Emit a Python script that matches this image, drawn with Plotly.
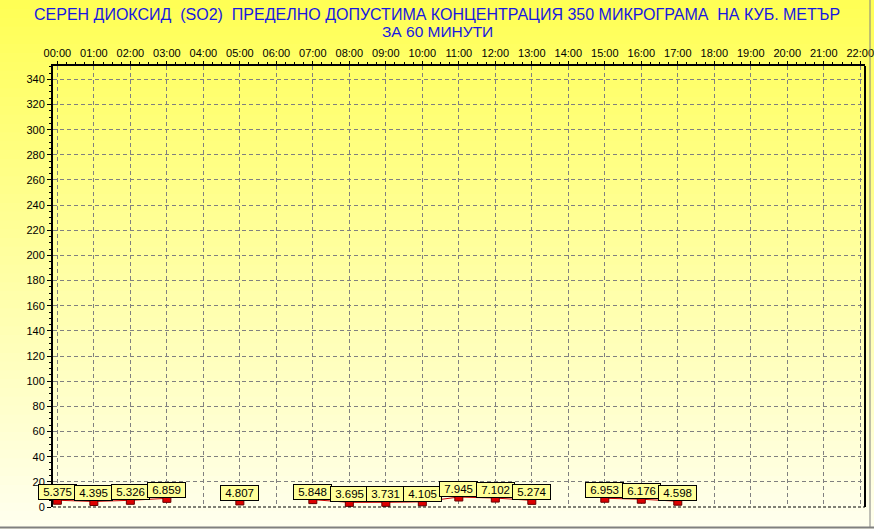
import plotly.graph_objects as go

hours = list(range(0, 23))
hour_labels = [f"{h:02d}:00" for h in hours]
data_hours = [0, 1, 2, 3, 5, 7, 8, 9, 10, 11, 12, 13, 15, 16, 17]
values = [5.375, 4.395, 5.326, 6.859, 4.807, 5.848, 3.695, 3.731, 4.105,
          7.945, 7.102, 5.274, 6.953, 6.176, 4.598]
y_ticks = list(range(0, 341, 20))
title_line1 = "СЕРЕН ДИОКСИД  (SO2)  ПРЕДЕЛНО ДОПУСТИМА КОНЦЕНТРАЦИЯ 350 МИКРОГРАМА  НА КУБ. МЕТЪР"
title_line2 = "ЗА 60 МИНУТИ"

# line series with gaps at missing hours
vmap = dict(zip(data_hours, values))
line_x = list(range(0, 18))
line_y = [vmap.get(h, None) for h in line_x]

W, H = 874, 529
L, R, T, B = 53, 9, 66, 22
ph = H - T - B
pw = W - L - R
FONT = "Arial, Liberation Sans, sans-serif"
TITLE_COLOR = "#1818E0"

fig = go.Figure()
fig.add_trace(go.Scatter(x=line_x, y=line_y, mode="lines",
                         line=dict(color="#CC0000", width=1),
                         connectgaps=False, hoverinfo="skip", showlegend=False))
fig.add_trace(go.Scatter(x=data_hours, y=values, mode="markers",
                         marker=dict(symbol="square", size=8, color="#DD0000",
                                     line=dict(color="#660000", width=1)),
                         showlegend=False))

annotations = []
for h, v in zip(data_hours, values):
    annotations.append(dict(x=h, y=v, xref="x", yref="y", text=f"&nbsp;{v:.3f}&nbsp;",
                            showarrow=False, yshift=8,
                            font=dict(family=FONT, size=11.5, color="black"),
                            bgcolor="#FFFF99", bordercolor="black", borderwidth=1,
                            borderpad=1))
title_x = (437 - L) / pw
annotations.append(dict(x=title_x, y=1 + (T - 14.5) / ph,
                        xref="paper", yref="paper",
                        text=title_line1, showarrow=False, xanchor="center", yanchor="middle",
                        font=dict(family=FONT, size=16, color=TITLE_COLOR)))
annotations.append(dict(x=title_x, y=1 + (T - 31.5) / ph,
                        xref="paper", yref="paper",
                        text=title_line2, showarrow=False, xanchor="center", yanchor="middle",
                        font=dict(family=FONT, size=15.5, color=TITLE_COLOR)))

# gradient background bands
shapes = []
n = 60
y0p = -B / ph
y1p = 1 + T / ph
top = (255, 255, 85)
bot = (255, 255, 238)
for i in range(n):
    f = i / (n - 1)
    c = tuple(int(round(bot[k] + (top[k] - bot[k]) * f)) for k in range(3))
    ya = y0p + (y1p - y0p) * i / n
    yb = y0p + (y1p - y0p) * (i + 1) / n + 0.002
    shapes.append(dict(type="rect", xref="paper", yref="paper",
                       x0=-L / pw - 0.01, x1=1 + R / pw + 0.01, y0=ya, y1=yb,
                       fillcolor=f"rgb{c}", line=dict(width=0), layer="below"))
# right border of plot
shapes.append(dict(type="line", xref="paper", yref="paper", x0=1, x1=1, y0=0, y1=1,
                   line=dict(color="black", width=2)))
# bottom dashed line at zero
shapes.append(dict(type="line", xref="paper", yref="paper", x0=0, x1=1, y0=0, y1=0,
                   line=dict(color="black", width=1, dash="3px,2px")))
# window frame lines (gray)
shapes.append(dict(type="line", xref="paper", yref="paper",
                   x0=-L / pw, x1=1 + R / pw, y0=-(B - 1.5) / ph, y1=-(B - 1.5) / ph,
                   line=dict(color="#808080", width=2)))
shapes.append(dict(type="line", xref="paper", yref="paper",
                   x0=1 + (R - 4) / pw, x1=1 + (R - 4) / pw, y0=-(B - 1.5) / ph, y1=1 + T / ph,
                   line=dict(color="#808080", width=1)))

fig.update_layout(
    width=W, height=H,
    margin=dict(l=L, r=R, t=T, b=B, pad=0, autoexpand=False),
    paper_bgcolor="#FFFFEE",
    plot_bgcolor="rgba(0,0,0,0)",
    showlegend=False,
    annotations=annotations,
    shapes=shapes,
    font=dict(family=FONT, size=11, color="black"),
    xaxis=dict(range=[-0.12, 22.13], side="top", tickmode="array",
               tickvals=hours, ticktext=hour_labels, automargin=False,
               ticklabeloverflow="allow",
               showgrid=True, gridcolor="#808080", griddash="4px,3px", gridwidth=1,
               showline=True, linecolor="black", linewidth=2,
               ticks="outside", ticklen=3, tickcolor="black",
               minor=dict(dtick=0.25, tick0=0, ticks="outside", ticklen=2, tickcolor="black", showgrid=False),
               zeroline=False, fixedrange=True,
               tickfont=dict(family=FONT, size=11, color="black")),
    yaxis=dict(range=[0, 350.6], tickmode="array", tickvals=y_ticks, automargin=False,
               showgrid=True, gridcolor="#808080", griddash="4px,3px", gridwidth=1,
               showline=True, linecolor="black", linewidth=2,
               ticks="outside", ticklen=4, tickcolor="black",
               minor=dict(dtick=5, ticks="outside", ticklen=2, tickcolor="black", showgrid=False),
               zeroline=False, fixedrange=True,
               tickfont=dict(family=FONT, size=11, color="black")),
)

fig.write_html("out.html", config={"displayModeBar": False},
               post_script="document.body.style.margin='0px';document.body.style.padding='0px';document.body.style.overflow='hidden';")
